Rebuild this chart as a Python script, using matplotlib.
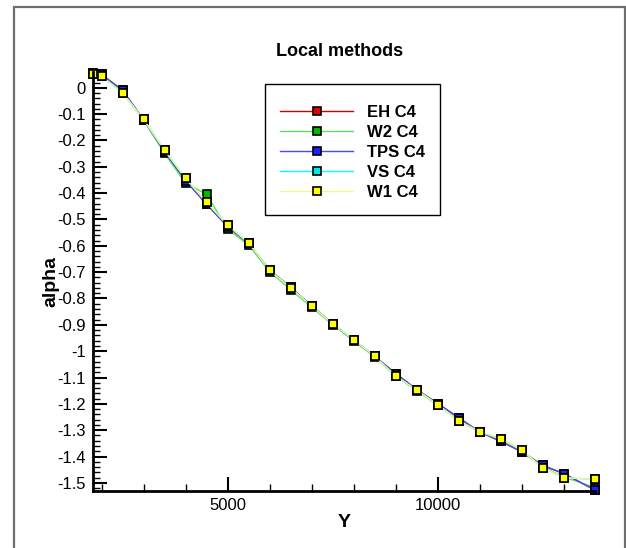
import numpy as np
import matplotlib
matplotlib.use('Agg')
from matplotlib import pyplot as plt
from matplotlib.ticker import MultipleLocator, FixedLocator, FuncFormatter
from matplotlib.patches import Rectangle

plt.rcParams['font.family'] = ['Liberation Sans', 'DejaVu Sans']

# span stations
y_pos = [1790, 2000, 2500, 3000, 3500, 4000, 4500, 5000, 5500, 6000, 6500,
         7000, 7500, 8000, 8500, 9000, 9500, 10000, 10500, 11000, 11500,
         12000, 12500, 13000, 13750]

# alpha for each method
eh_c4 = [0.057, 0.051, -0.010, -0.121, -0.243, -0.352, -0.442, -0.527, -0.591,
         -0.692, -0.758, -0.828, -0.896, -0.958, -1.020, -1.085, -1.146, -1.199,
         -1.253, -1.307, -1.342, -1.382, -1.434, -1.465, -1.528]
w2_c4 = [0.054, 0.046, -0.016, -0.122, -0.249, -0.363, -0.404, -0.537, -0.597,
         -0.698, -0.766, -0.834, -0.899, -0.960, -1.022, -1.095, -1.150, -1.205,
         -1.262, -1.308, -1.338, -1.380, -1.440, -1.478, -1.518]
tps_c4 = [0.057, 0.051, -0.010, -0.121, -0.243, -0.352, -0.442, -0.527, -0.591,
          -0.692, -0.758, -0.828, -0.896, -0.958, -1.020, -1.085, -1.146, -1.199,
          -1.253, -1.307, -1.342, -1.382, -1.434, -1.465, -1.528]
vs_c4 = [0.054, 0.044, -0.019, -0.120, -0.237, -0.344, -0.435, -0.521, -0.589,
         -0.693, -0.760, -0.829, -0.896, -0.956, -1.020, -1.094, -1.148, -1.203,
         -1.265, -1.306, -1.333, -1.376, -1.443, -1.480, -1.487]
w1_c4 = [0.054, 0.044, -0.019, -0.120, -0.237, -0.344, -0.435, -0.521, -0.589,
         -0.693, -0.760, -0.829, -0.896, -0.956, -1.020, -1.094, -1.148, -1.203,
         -1.265, -1.306, -1.333, -1.376, -1.443, -1.480, -1.487]

labels = ['EH C4', 'W2 C4', 'TPS C4', 'VS C4', 'W1 C4']
series = [eh_c4, w2_c4, tps_c4, vs_c4, w1_c4]
line_colors = ['#d00000', '#5ee05e', '#4848ff', '#00ffff', '#f8f88c']
face_colors = ['#e00000', '#00b800', '#2020ff', '#00e8e8', '#ffff00']

fig = plt.figure(figsize=(6.26, 5.48), dpi=100)
ax = fig.add_axes([0.1481, 0.1040, 0.8029, 0.7646])

for vals, lab, lc, fc in zip(series, labels, line_colors, face_colors):
    ax.plot(y_pos, vals, color=lc, lw=1.0, marker='s', ms=5.5,
            mfc=fc, mec='black', mew=1.2, label=lab, clip_on=False)

ax.set_xlim(1790, 13750)
ax.set_ylim(-1.531, 0.06)

ax.xaxis.set_major_locator(FixedLocator([5000, 10000]))
ax.xaxis.set_minor_locator(MultipleLocator(1000))
ax.yaxis.set_major_locator(MultipleLocator(0.1))
ax.yaxis.set_minor_locator(MultipleLocator(0.02))
ax.yaxis.set_major_formatter(FuncFormatter(lambda v, p: '%g' % (round(v, 2) + 0.0)))

ax.tick_params(which='major', direction='in', length=10, width=1.5,
               labelsize=12, pad=5)
ax.tick_params(which='minor', direction='in', length=5, width=1)

for s in ['top', 'right']:
    ax.spines[s].set_visible(False)
for s in ['left', 'bottom']:
    ax.spines[s].set_linewidth(2)

ax.set_xlabel('Y', fontsize=14, fontweight='bold', labelpad=1)
ax.set_ylabel('alpha', fontsize=14, fontweight='bold')
ax.yaxis.set_label_coords(-0.066, 0.5)

fig.text(340 / 626, 1 - 51 / 548, 'Local methods', fontsize=13,
         fontweight='bold', ha='center', va='center')

leg = ax.legend(loc='upper left', bbox_to_anchor=(265 / 626, 1 - 84 / 548),
                bbox_transform=fig.transFigure, borderaxespad=0,
                prop={'weight': 'bold', 'size': 12}, handlelength=4.4,
                handletextpad=0.8, borderpad=0.9, labelspacing=0.3,
                title=' ', title_fontsize=1,
                fancybox=False, framealpha=1)
leg.get_frame().set_edgecolor('black')
leg.get_frame().set_linewidth(1.0)

# outer frame of the page
fig.patches.append(Rectangle((13.5 / 626, -0.1), (625 - 13.5) / 626,
                             1.1 - 6.7 / 548, transform=fig.transFigure,
                             fill=False, edgecolor='#6e6e6e', lw=1.6))

plt.savefig('out.png', dpi=100)
